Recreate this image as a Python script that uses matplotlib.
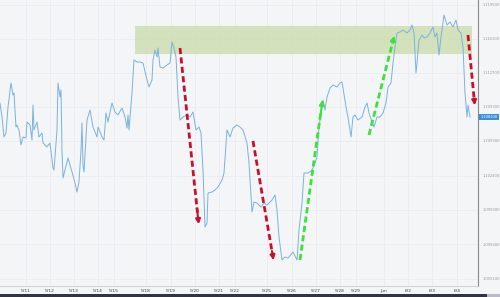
import matplotlib
matplotlib.use("Agg")
import matplotlib.pyplot as plt
from matplotlib.patches import Rectangle

# hours since start of the window, and price
hours = [0, 2, 4, 6, 8, 11, 13, 14, 16, 17, 19, 21, 23, 26, 27, 30, 32, 33, 34, 37,
         39, 42, 43, 47, 50, 52, 53, 54, 57, 58, 60, 61, 62, 63, 65, 68, 70, 72, 75, 77,
         79, 81, 82, 83, 84, 87, 90, 93, 97, 98, 102, 104, 106, 108, 112, 115, 118, 122, 125, 127,
         128, 129, 132, 134, 137, 140, 143, 147, 149, 152, 153, 155, 157, 158, 160, 163, 167, 170, 172, 174,
         176, 178, 180, 183, 187, 190, 193, 196, 199, 201, 203, 205, 207, 208, 212, 215, 218, 222, 224, 227,
         230, 233, 237, 240, 243, 247, 249, 252, 254, 257, 261, 264, 267, 272, 275, 277, 279, 282, 285, 288,
         293, 297, 299, 302, 304, 308, 312, 315, 317, 319, 323, 325, 327, 330, 333, 337, 340, 342, 343, 346,
         348, 351, 353, 355, 358, 362, 365, 367, 369, 372, 374, 377, 380, 383, 386, 388, 391, 393, 395, 397,
         400, 403, 407, 410, 412, 414, 416, 417, 419, 422, 424, 427, 430, 433, 435, 437, 439, 441, 443, 444,
         447, 450, 453, 456, 458, 461, 463, 465, 467, 468, 470]
price = [1.1097, 1.1083, 1.1063, 1.1067, 1.1093, 1.1117, 1.1105, 1.1107, 1.1073, 1.1075,
         1.1070, 1.1055, 1.1063, 1.1062, 1.1078, 1.1075, 1.1060, 1.1095, 1.1070, 1.1078,
         1.1063, 1.1067, 1.1057, 1.1053, 1.1057, 1.1040, 1.1032, 1.1030, 1.1070, 1.1117,
         1.1103, 1.1110, 1.1050, 1.1022, 1.1030, 1.1042, 1.1035, 1.1028, 1.1017, 1.1008,
         1.1018, 1.1050, 1.1077, 1.1035, 1.1028, 1.1080, 1.1090, 1.1073, 1.1063, 1.1073,
         1.1063, 1.1060, 1.1087, 1.1078, 1.1097, 1.1088, 1.1085, 1.1092, 1.1083, 1.1072,
         1.1085, 1.1070, 1.1107, 1.1140, 1.1138, 1.1138, 1.1137, 1.1120, 1.1113, 1.1120,
         1.1140, 1.1150, 1.1143, 1.1152, 1.1133, 1.1132, 1.1135, 1.1137, 1.1158, 1.1152,
         1.1143, 1.1103, 1.1080, 1.1083, 1.1085, 1.1083, 1.1088, 1.1070, 1.1073, 1.1067,
         1.1030, 1.0973, 1.0977, 1.1007, 1.1008, 1.1010, 1.1013, 1.1020, 1.1027, 1.1070,
         1.1063, 1.1072, 1.1075, 1.1073, 1.1070, 1.1057, 1.1037, 1.0988, 1.0998, 1.0997,
         1.0993, 1.0997, 1.0995, 1.1000, 1.1005, 1.0990, 1.0963, 1.0940, 1.0943, 1.0942,
         1.0948, 1.0940, 1.0970, 1.0997, 1.1027, 1.1027, 1.1030, 1.1037, 1.1043, 1.1073,
         1.1100, 1.1090, 1.1103, 1.1112, 1.1115, 1.1113, 1.1117, 1.1118, 1.1112, 1.1093,
         1.1083, 1.1063, 1.1083, 1.1085, 1.1080, 1.1083, 1.1093, 1.1097, 1.1087, 1.1078,
         1.1073, 1.1083, 1.1083, 1.1087, 1.1097, 1.1113, 1.1117, 1.1137, 1.1153, 1.1167,
         1.1168, 1.1170, 1.1167, 1.1170, 1.1175, 1.1167, 1.1127, 1.1137, 1.1160, 1.1165,
         1.1162, 1.1163, 1.1167, 1.1173, 1.1163, 1.1167, 1.1145, 1.1163, 1.1177, 1.1185,
         1.1175, 1.1178, 1.1173, 1.1180, 1.1170, 1.1167, 1.1153, 1.1107, 1.1083, 1.1095,
         1.1083]

tick_hours = [26, 50, 74, 98, 114, 146, 171, 195, 219, 235, 267, 292, 316, 340, 356,
              384, 408, 432, 457]
tick_labels = ['5/11', '5/12', '5/13', '5/14', '5/15', '5/18', '5/19', '5/20', '5/21', '5/22',
               '5/25', '5/26', '5/27', '5/28', '5/29', 'Jun', '6/2', '6/3', '6/4']
y_ticks = [1.1195, 1.1161, 1.1127, 1.1093, 1.1059, 1.1024, 1.0990, 1.0956, 1.0921]

# resistance zone
zone_x = [135, 472]
zone_y = [1.1146, 1.1174]

# arrows: (x0, y0, x1, y1, colour)
arrows = [
    (180, 1.1152, 199, 1.0973, '#c8102e'),
    (253, 1.1059, 274, 1.0937, '#c8102e'),
    (300, 1.0940, 323, 1.1103, '#3ee03a'),
    (369, 1.1065, 395, 1.1167, '#3ee03a'),
    (468, 1.1165, 475, 1.1092, '#c8102e'),
]
last_price = 1.1083

bg = '#f4f5f7'
fig = plt.figure(figsize=(5, 2.97), dpi=100, facecolor=bg)
ax = fig.add_axes([0, 11 / 297, 478 / 500, 286 / 297])
ax.set_facecolor(bg)
ax.set_xlim(0, 478)
ax.set_ylim(1.0914, 1.1200)

ax.add_patch(Rectangle((zone_x[0], zone_y[0]), zone_x[1] - zone_x[0], zone_y[1] - zone_y[0],
                       facecolor='#cbdcae', alpha=0.8, edgecolor='none', zorder=1))

ax.plot(hours, price, color='#7ab2de', lw=0.7, zorder=3)

for x0, y0, x1, y1, c in arrows:
    dx = (x1 - x0) * 0.08
    dy = (y1 - y0) * 0.08
    ax.plot([x0, x1 - dx], [y0, y1 - dy], color=c, lw=2.0, ls=(0, (2.2, 1.2)), zorder=4)
    ax.annotate('', xy=(x1, y1), xytext=(x1 - dx * 1.5, y1 - dy * 1.5),
                arrowprops=dict(arrowstyle='-|>', color=c, lw=1.5, mutation_scale=7),
                zorder=5)

ax.set_xticks(tick_hours)
ax.set_xticklabels(tick_labels)
ax.set_yticks(y_ticks)
ax.set_yticklabels(['%.6f' % v for v in y_ticks])
ax.yaxis.tick_right()
ax.tick_params(axis='x', length=0, pad=2, labelsize=3.2, labelcolor='#444444')
ax.tick_params(axis='y', length=0, pad=3, labelsize=2.6, labelcolor='#999999')
ax.grid(True, color='#eaecef', lw=0.6)
ax.set_axisbelow(True)
for s in ['top', 'left']:
    ax.spines[s].set_visible(False)
ax.spines['right'].set_color('#888888')
ax.spines['right'].set_linewidth(0.8)
ax.spines['bottom'].set_color('#cccccc')
ax.spines['bottom'].set_linewidth(0.6)

# current price tag
ax.annotate('%.6f' % last_price, xy=(1.0, last_price), xycoords=('axes fraction', 'data'),
            xytext=(2, 0), textcoords='offset points', ha='left', va='center',
            fontsize=2.6, color='white', annotation_clip=False,
            bbox=dict(boxstyle='square,pad=0.4', fc='#3b8ede', ec='none'))

# scrollbar strip
fig.add_artist(Rectangle((0, 0), 487 / 500, 3.5 / 297, transform=fig.transFigure,
                         facecolor='#2f3541', edgecolor='none'))
fig.add_artist(Rectangle((487 / 500, 0), 13 / 500, 3.5 / 297, transform=fig.transFigure,
                         facecolor='#b8bcc4', edgecolor='none'))

fig.savefig('out.png', dpi=100, facecolor=bg)
